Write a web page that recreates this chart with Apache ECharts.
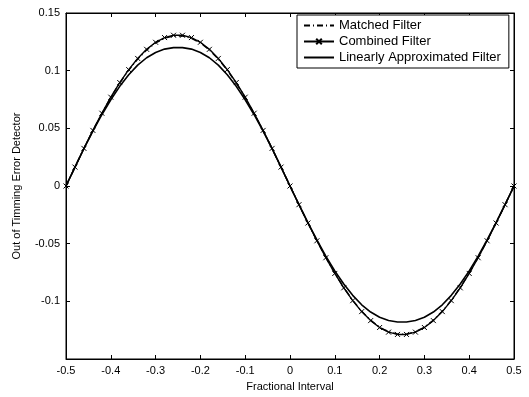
<!DOCTYPE html>
<html>
<head>
<meta charset="utf-8">
<script src="https://cdn.jsdelivr.net/npm/echarts@6/dist/echarts.min.js"></script>
<style>
html,body{margin:0;padding:0;background:#fff;}
#c{width:529px;height:397px;}
</style>
</head>
<body>
<div id="c"></div>
<script>
var xValues = [-0.5,-0.48,-0.46,-0.44,-0.42,-0.4,-0.38,-0.36,-0.34,-0.32,-0.3,-0.28,-0.26,-0.24,-0.22,-0.2,-0.18,-0.16,-0.14,-0.12,-0.1,-0.08,-0.06,-0.04,-0.02,0,
  0.02,0.04,0.06,0.08,0.1,0.12,0.14,0.16,0.18,0.2,0.22,0.24,0.26,0.28,0.3,0.32,0.34,0.36,0.38,0.4,0.42,0.44,0.46,0.48,0.5];

var matchedFilter = [0,0.0163,0.0325,0.0480,0.0628,0.0767,0.0893,0.1005,0.1101,0.1180,0.1240,0.1281,0.1301,0.1301,0.1281,0.1240,0.1180,0.1101,0.1005,0.0893,0.0767,0.0628,0.0480,0.0325,0.0163,0,
  -0.0162,-0.0320,-0.0474,-0.0620,-0.0756,-0.0880,-0.0991,-0.1086,-0.1164,-0.1224,-0.1264,-0.1284,-0.1284,-0.1264,-0.1224,-0.1164,-0.1086,-0.0991,-0.0880,-0.0756,-0.0620,-0.0474,-0.0320,-0.0162,0];

var combinedFilter = [0,0.0164,0.0326,0.0482,0.0631,0.0770,0.0897,0.1009,0.1106,0.1185,0.1246,0.1287,0.1307,0.1307,0.1287,0.1246,0.1185,0.1106,0.1009,0.0897,0.0770,0.0631,0.0482,0.0326,0.0164,0,
  -0.0162,-0.0321,-0.0475,-0.0622,-0.0758,-0.0883,-0.0994,-0.1089,-0.1167,-0.1227,-0.1267,-0.1287,-0.1287,-0.1267,-0.1227,-0.1167,-0.1089,-0.0994,-0.0883,-0.0758,-0.0622,-0.0475,-0.0321,-0.0162,0];

var linearFilter = [0,0.0163,0.0323,0.0475,0.0618,0.0748,0.0864,0.0965,0.1048,0.1112,0.1158,0.1187,0.1200,0.1200,0.1187,0.1158,0.1112,0.1048,0.0965,0.0864,0.0748,0.0618,0.0475,0.0323,0.0163,0,
  -0.0161,-0.0318,-0.0468,-0.0608,-0.0736,-0.0850,-0.0948,-0.1030,-0.1093,-0.1138,-0.1166,-0.1179,-0.1179,-0.1166,-0.1138,-0.1093,-0.1030,-0.0948,-0.0850,-0.0736,-0.0608,-0.0468,-0.0318,-0.0161,0];

var seriesNames = ['Matched Filter','Combined Filter','Linearly Approximated Filter'];
var xAxisTitle = 'Fractional Interval';
var yAxisTitle = 'Out of Timming Error Detector';

function pairs(ys){ return xValues.map(function(x,i){ return [x, ys[i]]; }); }
function fmt(v){ var r = parseFloat(v.toFixed(2)); return String(r); }

var FONT = 'Liberation Sans';
var chart = echarts.init(document.getElementById('c'), null, {renderer:'canvas'});
var axisLine = {show:true, onZero:false, lineStyle:{color:'#000', width:1}};
var tick = {show:true, inside:true, length:4, lineStyle:{color:'#000'}};
chart.setOption({
  animation:false,
  backgroundColor:'#fff',
  textStyle:{fontFamily:FONT},
  grid:{left:66, right:15, top:13, bottom:35, show:true, borderColor:'#000', borderWidth:1},
  legend:{
    orient:'vertical', left:297, top:15,
    backgroundColor:'#fff', borderColor:'#000', borderWidth:1,
    padding:[4,8,4,6], itemGap:3, itemWidth:30, itemHeight:7,
    textStyle:{fontFamily:FONT, fontSize:13, color:'#000'},
    data:[
      {name:seriesNames[0], itemStyle:{opacity:0}},
      {name:seriesNames[1]},
      {name:seriesNames[2], itemStyle:{opacity:0}}
    ]
  },
  xAxis:[{
    type:'value', min:-0.5, max:0.5, interval:0.1, position:'bottom',
    axisLine:axisLine, axisTick:tick, splitLine:{show:false},
    axisLabel:{color:'#000', fontSize:11, fontFamily:FONT, margin:6, formatter:fmt},
    name:xAxisTitle, nameLocation:'middle', nameGap:22,
    nameTextStyle:{color:'#000', fontSize:11, fontFamily:FONT}
  },{
    type:'value', min:-0.5, max:0.5, interval:0.1, position:'top',
    axisLine:axisLine, axisTick:tick, splitLine:{show:false}, axisLabel:{show:false}
  }],
  yAxis:[{
    type:'value', min:-0.15, max:0.15, interval:0.05, position:'left',
    axisLine:axisLine, axisTick:tick, splitLine:{show:false},
    axisLabel:{color:'#000', fontSize:11, fontFamily:FONT, margin:6,
      formatter:function(v){ return Math.abs(v+0.15)<1e-9 ? '' : fmt(v); }},
    name:yAxisTitle, nameLocation:'middle', nameGap:44, nameRotate:90,
    nameTextStyle:{color:'#000', fontSize:11, fontFamily:FONT}
  },{
    type:'value', min:-0.15, max:0.15, interval:0.05, position:'right',
    axisLine:axisLine, axisTick:tick, splitLine:{show:false}, axisLabel:{show:false}
  }],
  series:[
    {name:seriesNames[2], type:'line', data:pairs(linearFilter), showSymbol:false, symbol:'none',
      lineStyle:{color:'#000', width:1.6}, itemStyle:{color:'#000'}, z:2},
    {name:seriesNames[0], type:'line', data:pairs(matchedFilter), showSymbol:false, symbol:'none',
      lineStyle:{color:'#000', width:1.4, type:[6,3,1,3]}, itemStyle:{color:'#000'}, z:3},
    {name:seriesNames[1], type:'line', data:pairs(combinedFilter),
      symbol:'path://M0,0L10,10M10,0L0,10', symbolSize:5, showSymbol:true,
      lineStyle:{color:'#000', width:1.4}, itemStyle:{color:'#000', borderColor:'#000', borderWidth:1}, z:4}
  ]
});
</script>
</body>
</html>
